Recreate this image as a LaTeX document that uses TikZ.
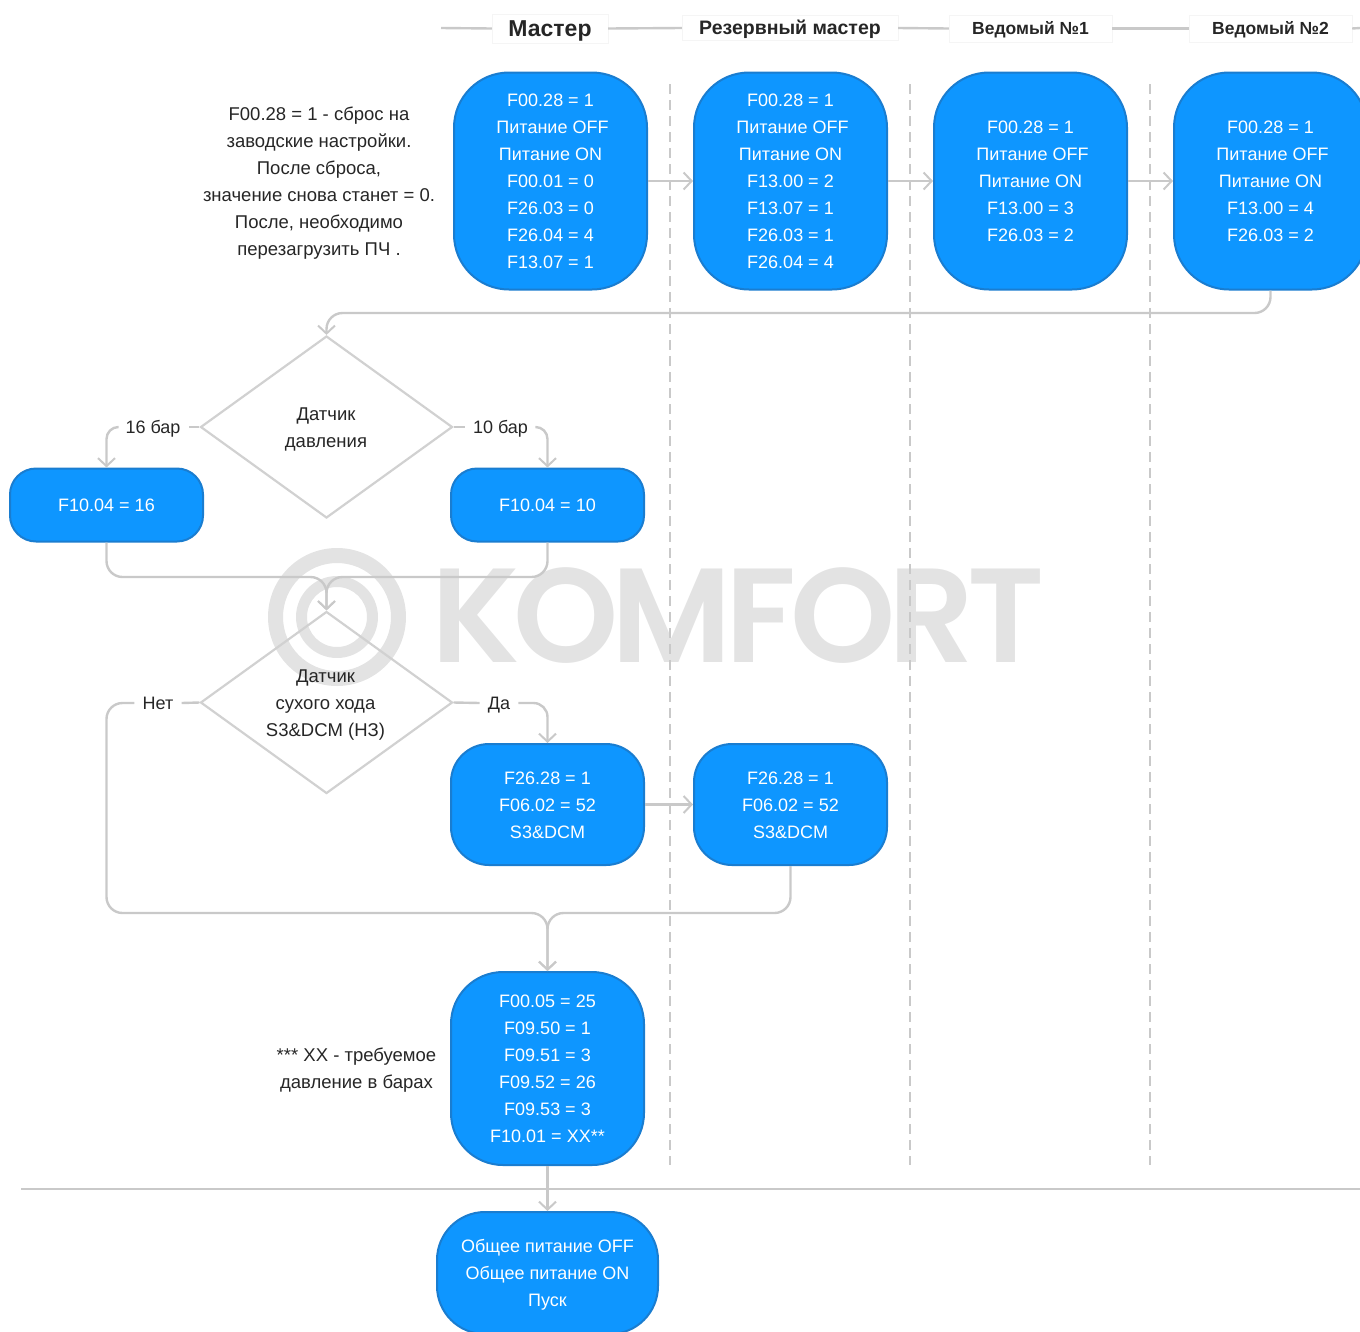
\documentclass[tikz,border=0pt]{standalone}
\usepackage{fontspec}
\usetikzlibrary{arrows.meta,shapes.geometric,calc}
\setmainfont{Liberation Sans}
\newfontfamily\wmfont[LetterSpace=-5]{Poppins SemiBold}
\definecolor{boxblue}{HTML}{0E96FF}
\definecolor{boxedge}{HTML}{1A7DD0}
\definecolor{linegray}{HTML}{C9C9C9}
\definecolor{ink}{HTML}{262626}
\definecolor{wmgray}{HTML}{E3E3E3}
\tikzset{
  x=1pt,y=-1pt,
  bluebox/.style={draw=boxedge,line width=2pt,fill=boxblue,text=white,align=center,inner sep=0pt,
    font=\fontsize{18}{27}\selectfont},
  cols/.style={bluebox,minimum width=193pt,minimum height=217pt,rounded corners=55pt},
  decide/.style={diamond,draw=linegray!85!white,line width=2.2pt,minimum width=252pt,minimum height=182pt,inner sep=0pt},
  conn/.style={draw=linegray,line width=2.4pt,-{Straight Barb[length=8pt,width=17pt,line width=2pt]},rounded corners=16pt},
  plain/.style={draw=linegray,line width=2.4pt,rounded corners=16pt},
  sep/.style={draw=linegray,line width=2.2pt,dash pattern=on 10pt off 6pt},
  note/.style={text=ink,align=center,font=\fontsize{18.5}{27}\selectfont},
  dtext/.style={text=ink,align=center,font=\fontsize{18.5}{27}\selectfont},
  tag/.style={text=ink,inner xsep=8pt,inner ysep=2pt,text height=13pt,text depth=0pt,font=\fontsize{18}{27}\selectfont},
  head/.style={draw=black!4,fill=white,text=ink,inner sep=0pt,font=\bfseries\fontsize{19.5}{24}\selectfont},
}
\begin{document}
\begin{tikzpicture}
\useasboundingbox (0,0) rectangle (1360,1331);
\clip (0,0) rectangle (1360,1331);
% watermark
\fill[wmgray,even odd rule] (337,617) circle (69) (337,617) circle (54) (337,617) circle (41) (337,617) circle (30);
\node[anchor=west,text=wmgray,inner sep=0pt,font=\wmfont\fontsize{134}{134}\selectfont] (wm) at (431,616) {KOMFORT};
% separators
\coordinate (a1) at (670,84); \coordinate (a2) at (670,1165);
\coordinate (b1) at (910,84); \coordinate (b2) at (910,1165);
\coordinate (c1) at (1150,84); \coordinate (c2) at (1150,1165);
\draw[sep] (a1) -- (a2);
\draw[sep] (b1) -- (b2);
\draw[sep] (c1) -- (c2);
\coordinate (hl) at (21,1189); \coordinate (hr) at (1360,1189);
\draw[draw=linegray,line width=2.6pt] (hl) -- (hr);
% headers
\coordinate (ls) at (441,28); \coordinate (le) at (1360,28);
\node[head,minimum width=116pt,minimum height=29pt,text height=17pt,text depth=2pt,font=\bfseries\fontsize{23}{24}\selectfont] (hm) at (550,28.5) {Мастер};
\node[head,minimum width=216pt,minimum height=25pt,text height=14pt,text depth=1pt] (hz) at (790,28) {Резервный мастер};
\node[head,minimum width=163pt,minimum height=27pt,text height=14pt,text depth=2pt,font=\bfseries\fontsize{17.5}{24}\selectfont] (h1) at (1030.5,28.5) {Ведомый №1};
\node[head,minimum width=163pt,minimum height=27pt,text height=14pt,text depth=2pt,font=\bfseries\fontsize{17.5}{24}\selectfont] (h2) at (1270.5,28.5) {Ведомый №2};
\draw[plain] (ls) -- (hm.west);
\draw[plain] (hm.east) -- (hz.west);
\draw[plain] (hz.east) -- (h1.west);
\draw[plain] (h1.east) -- (h2.west);
\draw[plain] (h2.east) -- (le);
% top row
\node[cols] (m) at (550.5,181) {F00.28 = 1\\\hspace*{4pt}Питание OFF\\Питание ON\\F00.01 = 0\\F26.03 = 0\\F26.04 = 4\\F13.07 = 1};
\node[cols] (r) at (790.5,181) {F00.28 = 1\\\hspace*{4pt}Питание OFF\\Питание ON\\F13.00 = 2\\F13.07 = 1\\F26.03 = 1\\F26.04 = 4};
\node[cols] (s1) at (1030.5,181) {F00.28 = 1\\\hspace*{4pt}Питание OFF\\Питание ON\\F13.00 = 3\\F26.03 = 2};
\node[cols] (s2) at (1270.5,181) {F00.28 = 1\\\hspace*{4pt}Питание OFF\\Питание ON\\F13.00 = 4\\F26.03 = 2};
\node[note] (n1) at (319,183) {F00.28 = 1 - сброс на\\заводские настройки.\\После сброса,\\значение снова станет = 0.\\После, необходимо\\перезагрузить ПЧ .};
% diamonds
\node[decide] (d1) at (326.5,427) {};
\node[dtext] (t1) at (326,429) {Датчик\\давления};
\node[decide] (d2) at (326.5,702.5) {};
\node[dtext] (t2) at (325.5,705.5) {Датчик\\сухого хода\\S3\&DCM (НЗ)};
% value boxes
\node[bluebox,minimum width=193pt,minimum height=73pt,rounded corners=26pt] (f16) at (106.5,505) {F10.04 = 16};
\node[bluebox,minimum width=193pt,minimum height=73pt,rounded corners=26pt] (f10) at (547.5,505) {F10.04 = 10};
\node[bluebox,minimum width=193pt,minimum height=121pt,rounded corners=38pt] (w1) at (547.5,804.5) {\rule{0pt}{15pt}F26.28 = 1\\F06.02 = 52\\S3\&DCM};
\node[bluebox,minimum width=193pt,minimum height=121pt,rounded corners=38pt] (w2) at (790.5,804.5) {\rule{0pt}{15pt}F26.28 = 1\\F06.02 = 52\\S3\&DCM};
\node[bluebox,minimum width=193pt,minimum height=193pt,rounded corners=52pt] (g) at (547.5,1068.5) {F00.05 = 25\\F09.50 = 1\\F09.51 = 3\\F09.52 = 26\\F09.53 = 3\\F10.01 = XX**};
\node[bluebox,minimum width=221pt,minimum height=122pt,rounded corners=48pt] (e) at (547.5,1273) {\rule{0pt}{17pt}Общее питание OFF\\Общее питание ON\\Пуск};
\node[note] (n2) at (356.5,1070.5) {*** XX - требуемое\\давление в барах};
% labels
\node[tag] (l16) at (153,427) {16 бар};
\node[tag] (l10) at (500.5,427) {10 бар};
\node[tag] (lno) at (158,703) {Нет};
\node[tag] (lyes) at (499,703) {Да};
% connectors
\draw[conn,rounded corners=0pt] (m.east) -- (r.west);
\draw[conn,rounded corners=0pt] (r.east) -- (s1.west);
\draw[conn,rounded corners=0pt] (s1.east) -- (s2.west);
\coordinate (j1) at (326.5,313);
\draw[conn] (s2.south) |- (j1) -- (d1.north);
\draw[plain] (d1.west) -- (l16.east);
\draw[conn,rounded corners=12pt] (l16.west) -| (f16.north);
\draw[plain] (d1.east) -- (l10.west);
\draw[conn,rounded corners=12pt] (l10.east) -| (f10.north);
\coordinate (j2) at (326.5,577);
\draw[conn] (f16.south) |- (j2) -- (d2.north);
\draw[conn] (f10.south) |- (j2) -- (d2.north);
\draw[plain] (d2.west) -- (lno.east);
\draw[plain] (d2.east) -- (lyes.west);
\draw[conn,rounded corners=14pt] (lyes.east) -| (w1.north);
\draw[conn,rounded corners=0pt] (w1.east) -- (w2.west);
\coordinate (j3) at (547.5,913);
\coordinate (k3) at (106.5,803);
\draw[conn] (lno.west) -| (k3) |- (j3) -- (g.north);
\draw[conn] (w2.south) |- (j3) -- (g.north);
\draw[conn,rounded corners=0pt] (g.south) -- (e.north);
\end{tikzpicture}
\end{document}
